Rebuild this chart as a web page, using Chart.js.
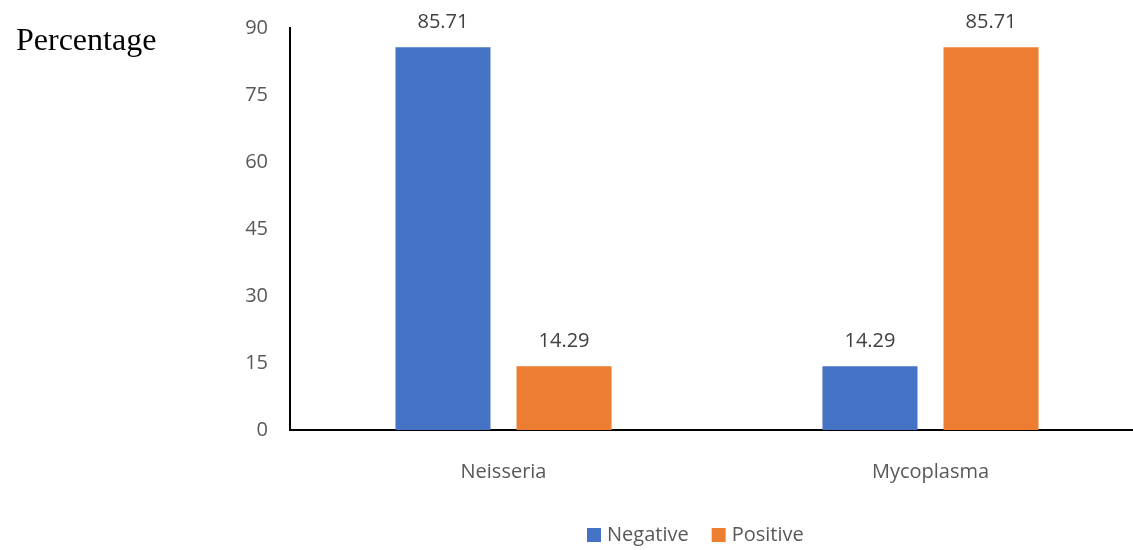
<!DOCTYPE html>
<html>
<head>
<meta charset="utf-8">
<script src="https://cdn.jsdelivr.net/npm/chart.js@4"></script>
<style>
  html, body { margin: 0; padding: 0; background: #fff; overflow: hidden; }
  #wrap { width: 1144px; height: 550px; position: relative; }
</style>
</head>
<body>
<div id="wrap"><canvas id="chart"></canvas></div>
<script>
// data
const categories = ["Neisseria", "Mycoplasma"];
const negativeValues = [85.71, 14.29];
const positiveValues = [14.29, 85.71];
const yTicks = [0, 15, 30, 45, 60, 75, 90];

const FONT = "'Open Sans', sans-serif";

// value labels above each bar
const barLabels = {
  id: "barLabels",
  afterDatasetsDraw(chart) {
    const ctx = chart.ctx;
    ctx.save();
    ctx.font = "20px " + FONT;
    ctx.fillStyle = "#404040";
    ctx.textAlign = "center";
    ctx.textBaseline = "middle";
    chart.data.datasets.forEach((ds, i) => {
      chart.getDatasetMeta(i).data.forEach((bar, j) => {
        ctx.fillText(ds.data[j].toFixed(2), bar.x, bar.y - 25);
      });
    });
    ctx.restore();
  }
};

// "Percentage" caption + legend at the bottom
const extras = {
  id: "extras",
  afterDraw(chart) {
    const ctx = chart.ctx;
    ctx.save();
    ctx.font = "32px 'Liberation Serif', 'Times New Roman', serif";
    ctx.fillStyle = "#000";
    ctx.textAlign = "left";
    ctx.textBaseline = "alphabetic";
    ctx.fillText("Percentage", 16, 50);

    // legend
    ctx.font = "20px " + FONT;
    ctx.textBaseline = "middle";
    let x = 587;
    const y = 535;
    chart.data.datasets.forEach(ds => {
      ctx.fillStyle = ds.backgroundColor;
      ctx.fillRect(x, y - 7, 14, 14);
      ctx.fillStyle = "#595959";
      ctx.fillText(ds.label, x + 20, y);
      x += 20 + ctx.measureText(ds.label).width + 23;
    });
    ctx.restore();
  }
};

const ctx = document.getElementById("chart").getContext("2d");
new Chart(ctx, {
  type: "bar",
  data: {
    labels: categories,
    datasets: [
      {
        label: "Negative",
        data: negativeValues,
        backgroundColor: "#4472C4",
        categoryPercentage: 0.567,
        barPercentage: 0.785
      },
      {
        label: "Positive",
        data: positiveValues,
        backgroundColor: "#ED7D31",
        categoryPercentage: 0.567,
        barPercentage: 0.785
      }
    ]
  },
  options: {
    responsive: true,
    maintainAspectRatio: false,
    animation: false,
    layout: { padding: { top: 28, right: 0, left: 0, bottom: 0 } },
    plugins: {
      legend: { display: false },
      tooltip: { enabled: false }
    },
    scales: {
      x: {
        grid: { display: false, drawTicks: false },
        border: { display: true, color: "#000", width: 2 },
        ticks: { font: { family: FONT, size: 20 }, color: "#595959", padding: 30 },
        afterFit(scale) { scale.height = 120; }
      },
      y: {
        min: 0,
        max: 90,
        grid: { display: false, drawTicks: false },
        border: { display: true, color: "#000", width: 2 },
        afterBuildTicks(scale) { scale.ticks = yTicks.map(v => ({ value: v })); },
        ticks: { font: { family: FONT, size: 20 }, color: "#595959", padding: 22 },
        afterFit(scale) {
          scale.width = 290;
          scale.paddingTop = 0;
          scale.paddingBottom = 0;
        }
      }
    }
  },
  plugins: [barLabels, extras]
});
</script>
</body>
</html>
